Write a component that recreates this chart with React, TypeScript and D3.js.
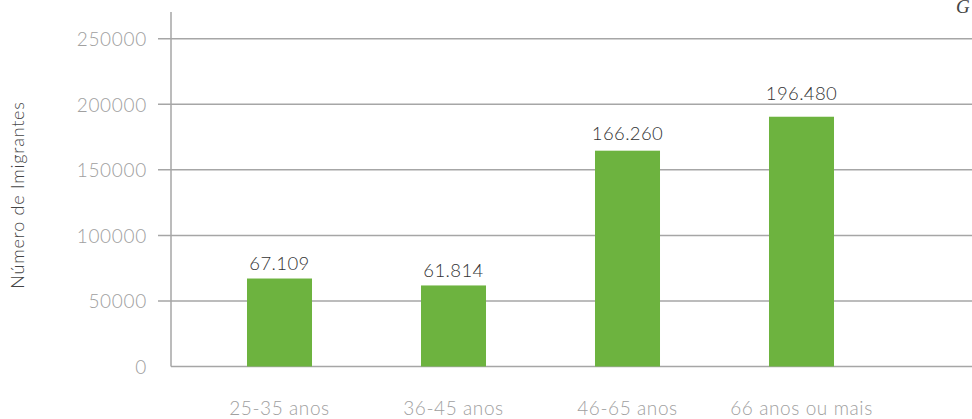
import React from "react";
import * as d3 from "d3";

const categories = ["25-35 anos", "36-45 anos", "46-65 anos", "66 anos ou mais"];
const values = [67109, 61814, 164600, 190500];
const labelValues = [67109, 61814, 166260, 196480];
const labels = ["67.109", "61.814", "166.260", "196.480"];
const yTicks = [0, 50000, 100000, 150000, 200000, 250000];

const W = 972;
const H = 419;
const FONT = "Lato, 'Open Sans', sans-serif";

export default function App() {
  const y = d3.scaleLinear().domain([0, 270000]).range([366.5, 12.5]);
  const x = d3
    .scaleBand<string>()
    .domain(categories)
    .range([192.5, 888.5])
    .paddingInner(0.6264)
    .paddingOuter(0.3132);
  const axisX = 171;

  return (
    <svg
      width={W}
      height={H}
      style={{ position: "absolute", left: 0, top: 0, background: "#fff" }}
    >
      {yTicks.map((t) => (
        <g key={t}>
          <line
            x1={t === 0 ? axisX : 158}
            x2={W}
            y1={y(t)}
            y2={y(t)}
            stroke="#a6a6a6"
            strokeWidth={1.5}
          />
          <text
            x={147}
            y={y(t)}
            textAnchor="end"
            dominantBaseline="central"
            fontFamily={FONT}
            fontWeight={300}
            fontSize={19}
            letterSpacing={0.7}
            fill="#a0a0a0"
          >
            {t}
          </text>
        </g>
      ))}
      <line x1={axisX} x2={axisX} y1={12} y2={y(0)} stroke="#a6a6a6" strokeWidth={1.5} />
      {categories.map((c, i) => (
        <g key={c}>
          <rect
            x={x(c)}
            y={y(values[i])}
            width={x.bandwidth()}
            height={y(0) - y(values[i])}
            fill="#6db33f"
          />
          <text
            x={(x(c) as number) + x.bandwidth() / 2}
            y={y(labelValues[i]) - 8.5}
            textAnchor="middle"
            fontFamily={FONT}
            fontWeight={300}
            fontSize={18.5}
            letterSpacing={0.4}
            fill="#333"
          >
            {labels[i]}
          </text>
          <text
            x={(x(c) as number) + x.bandwidth() / 2}
            y={415}
            textAnchor="middle"
            fontFamily={FONT}
            fontWeight={300}
            fontSize={19}
            letterSpacing={0.6}
            fill="#a0a0a0"
          >
            {c}
          </text>
        </g>
      ))}
      <text
        transform="translate(24,195) rotate(-90)"
        textAnchor="middle"
        fontFamily={FONT}
        fontWeight={300}
        fontSize={18}
        letterSpacing={0.75}
        fill="#444"
      >
        Número de Imigrantes
      </text>
      <text
        x={956}
        y={13}
        fontFamily="'Liberation Serif', 'DejaVu Serif', serif"
        fontStyle="italic"
        fontSize={19}
        fill="#444"
      >
        G
      </text>
    </svg>
  );
}
